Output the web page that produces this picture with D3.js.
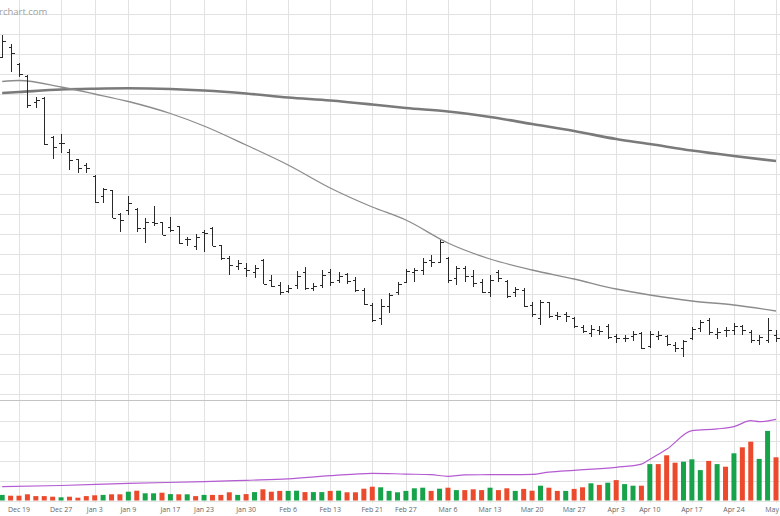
<!DOCTYPE html>
<html><head><meta charset="utf-8">
<script src="https://cdn.jsdelivr.net/npm/d3@7"></script>
<style>html,body{margin:0;padding:0;background:#fff;overflow:hidden}</style>
</head><body><svg id="c" width="780" height="516"></svg>
<script>
const dates = [
"2016-12-15","2016-12-16","2016-12-19","2016-12-20","2016-12-21","2016-12-22","2016-12-23","2016-12-27","2016-12-28","2016-12-29","2016-12-30",
"2017-01-03","2017-01-04","2017-01-05","2017-01-06","2017-01-09","2017-01-10","2017-01-11","2017-01-12","2017-01-13",
"2017-01-17","2017-01-18","2017-01-19","2017-01-20","2017-01-23","2017-01-24","2017-01-25","2017-01-26","2017-01-27","2017-01-30","2017-01-31",
"2017-02-01","2017-02-02","2017-02-03","2017-02-06","2017-02-07","2017-02-08","2017-02-09","2017-02-10","2017-02-13","2017-02-14","2017-02-15","2017-02-16","2017-02-17",
"2017-02-21","2017-02-22","2017-02-23","2017-02-24","2017-02-27","2017-02-28",
"2017-03-01","2017-03-02","2017-03-03","2017-03-06","2017-03-07","2017-03-08","2017-03-09","2017-03-10","2017-03-13","2017-03-14","2017-03-15","2017-03-16","2017-03-17",
"2017-03-20","2017-03-21","2017-03-22","2017-03-23","2017-03-24","2017-03-27","2017-03-28","2017-03-29","2017-03-30","2017-03-31",
"2017-04-03","2017-04-04","2017-04-05","2017-04-06","2017-04-10","2017-04-11","2017-04-12","2017-04-13","2017-04-14",
"2017-04-17","2017-04-18","2017-04-19","2017-04-20","2017-04-21","2017-04-24","2017-04-25","2017-04-26","2017-04-27","2017-04-28","2017-05-01"];

const open  = [35.65,36.65,34.95,33.75,31.15,31.55,27.65,27.05,26.15,25.45,24.85,23.75,21.75,22.35,19.95,20.35,20.45,18.55,19.15,19.15,18.65,18.75,17.45,16.75,18.15,18.55,16.85,15.55,14.75,14.55,14.15,15.35,13.35,12.85,12.25,12.85,14.15,12.55,12.85,14.15,13.35,13.95,13.35,12.35,10.85,9.55,10.75,12.15,13.15,14.15,14.35,15.35,15.15,15.55,13.55,14.55,13.75,13.15,12.15,14.15,13.25,12.15,12.35,10.85,9.55,11.15,9.85,9.95,9.55,8.65,8.05,8.35,8.75,7.75,7.55,7.75,8.05,6.75,7.75,7.75,6.85,6.55,7.55,8.55,9.35,7.95,8.35,8.35,8.75,8.15,7.35,7.35,7.85];
const high  = [37.85,36.95,35.05,33.85,31.65,31.65,27.75,27.95,26.45,25.45,25.05,23.85,22.55,22.35,20.05,21.75,20.55,19.55,20.75,19.15,19.65,18.75,17.65,17.95,18.35,18.65,16.85,15.75,15.35,15.05,14.85,15.45,13.85,13.15,12.85,14.25,14.65,13.05,14.35,14.45,14.15,14.05,13.65,12.55,11.05,11.45,12.05,13.15,14.45,14.55,15.55,15.85,17.35,15.65,14.75,14.75,14.35,13.45,13.85,14.35,13.35,12.65,12.55,11.15,11.35,11.15,10.15,10.15,9.65,8.85,8.85,8.75,8.95,7.95,7.85,8.25,8.15,8.25,8.25,7.85,7.15,7.35,8.65,9.35,9.55,8.55,8.65,9.05,8.85,8.35,7.85,9.55,8.35];
const low   = [35.55,34.15,33.65,30.55,30.55,26.85,25.45,26.05,24.35,24.05,24.05,21.05,21.05,19.55,18.15,19.85,18.15,17.05,18.75,17.85,18.15,16.95,16.75,16.35,16.15,16.75,15.35,13.85,14.35,13.65,13.55,12.95,12.65,11.85,12.05,12.45,12.35,12.25,12.55,12.75,13.05,12.95,12.15,10.85,9.15,8.85,10.05,11.85,13.05,13.15,13.85,14.65,15.05,13.05,12.85,13.15,12.65,12.05,11.65,13.15,11.55,11.65,10.65,9.65,8.85,9.55,9.35,9.15,8.55,8.05,7.65,7.85,7.45,7.05,7.15,7.25,6.45,6.55,7.35,6.75,6.15,5.65,7.35,8.15,7.85,7.45,7.65,7.85,7.85,7.05,6.85,7.05,7.15];
const close = [37.25,36.05,33.95,30.85,31.35,26.95,26.65,27.05,25.35,24.55,24.55,21.15,22.45,19.55,19.35,21.05,18.55,19.15,19.05,17.85,18.35,17.05,17.45,17.65,18.05,16.75,15.55,14.85,15.05,14.35,14.55,12.95,12.75,12.15,12.55,13.75,12.55,12.75,13.85,13.15,13.75,13.25,12.35,10.95,9.35,10.75,11.85,12.95,14.25,14.35,15.15,15.15,17.15,13.35,14.55,13.75,13.05,12.15,13.35,13.55,11.75,12.45,10.75,9.95,11.15,9.75,9.75,9.75,8.75,8.25,8.45,8.25,7.65,7.55,7.55,7.95,6.55,7.95,7.85,6.95,6.55,7.25,8.45,9.15,8.15,8.15,8.35,8.75,8.35,7.35,7.65,8.35,7.55];

// volume, millions of shares
const volume = [1.4,1.2,1.2,1.55,1.1,1.1,0.95,0.8,0.95,0.7,1.1,1.3,1.4,1.55,1.55,2.2,2.45,1.8,1.8,1.95,1.6,1.55,1.55,1.1,1.4,1.4,1.4,2.05,1.4,1.6,2.1,2.8,2.2,2.4,2.4,2.45,2.1,2.1,2.1,2.4,2.45,2.05,2.05,2.95,3.45,3.3,2.4,2.05,2.4,3.05,3.2,2.4,2.95,3.2,2.6,2.6,2.8,2.6,3.2,2.6,3.05,2.4,2.9,2.45,3.7,3.2,2.4,2.4,2.9,3.3,4.3,3.9,4.45,5.1,4.1,3.7,3.7,9.1,9.1,11.3,9.45,9.7,10.3,7.6,9.9,9.1,8.45,11.8,13.3,14.7,10.4,17.4,10.8];
// 1 = up day (green), 0 = down day (red)
const volUp = [1,0,0,0,0,0,0,1,0,0,0,0,1,0,0,1,0,1,1,0,1,0,1,0,1,0,0,0,1,0,1,0,0,0,1,1,0,1,1,0,1,0,0,0,0,1,1,1,1,1,1,0,1,0,1,0,0,0,1,0,0,1,0,0,1,0,0,1,0,0,1,0,1,0,1,1,0,1,0,0,0,1,1,1,0,1,0,1,0,0,1,1,0];

const maDates = ["2016-12-15","2016-12-19","2016-12-27","2017-01-03","2017-01-09","2017-01-17","2017-01-23","2017-01-30","2017-02-06","2017-02-13","2017-02-21","2017-02-27","2017-03-06","2017-03-13","2017-03-20","2017-03-27","2017-04-03","2017-04-10","2017-04-17","2017-04-24","2017-05-01"];
const ma200 = [32.05,32.15,32.40,32.48,32.52,32.45,32.30,32.00,31.60,31.30,30.90,30.55,30.20,29.65,28.95,28.25,27.45,26.95,26.30,25.75,25.25];
const ma50  = [33.20,33.30,32.65,31.95,31.20,30.00,28.75,26.85,24.85,22.55,20.65,19.35,17.05,15.45,14.35,13.45,12.45,11.85,11.25,10.85,10.25];

const volMaDates = ["2016-12-15","2016-12-27","2017-01-09","2017-01-23","2017-01-30","2017-02-06","2017-02-13","2017-02-21","2017-02-27","2017-03-02","2017-03-06","2017-03-08","2017-03-13","2017-03-20","2017-03-22","2017-03-27","2017-04-03","2017-04-06","2017-04-10","2017-04-12","2017-04-17","2017-04-20","2017-04-24","2017-04-26","2017-04-27","2017-05-01"];
const volMa = [3.45,3.75,4.3,4.7,5.05,5.4,6.2,6.8,6.6,6.45,6.05,6.4,6.45,6.55,7.1,7.55,8.3,9.1,10.3,12.8,17.45,17.9,18.45,19.95,19.7,20.3];

const tickDates  = ["2016-12-19","2016-12-27","2017-01-03","2017-01-09","2017-01-17","2017-01-23","2017-01-30","2017-02-06","2017-02-13","2017-02-21","2017-02-27","2017-03-06","2017-03-13","2017-03-20","2017-03-27","2017-04-03","2017-04-10","2017-04-17","2017-04-24","2017-05-01"];
const tickLabels = ["Dec 19","Dec 27","Jan 3","Jan 9","Jan 17","Jan 23","Jan 30","Feb 6","Feb 13","Feb 21","Feb 27","Mar 6","Mar 13","Mar 20","Mar 27","Apr 3","Apr 10","Apr 17","Apr 24","May"];
const priceTicks = d3.range(2, 41, 2);
const volTicks = [5, 10, 15, 20];

const svg = d3.select("#c");
const W = 780;
const x = d3.scalePoint().domain(dates).range([2.18, 776]);
const y = d3.scaleLinear().domain([1.35, 41.35]).range([400, 0]);
const yv = d3.scaleLinear().domain([0, 25]).range([500.5, 400.5]);
const cx = d => Math.round(x(d)) + 0.5;

const grid = svg.append("g").attr("stroke", "#e2e2e2").attr("stroke-width", 1).attr("shape-rendering", "crispEdges");
priceTicks.forEach(p => grid.append("line").attr("x1", 0).attr("x2", W).attr("y1", Math.round(y(p)) + 0.5).attr("y2", Math.round(y(p)) + 0.5));
volTicks.forEach(v => grid.append("line").attr("x1", 0).attr("x2", W).attr("y1", Math.round(yv(v)) + 0.5).attr("y2", Math.round(yv(v)) + 0.5));
tickDates.forEach(d => grid.append("line").attr("x1", cx(d)).attr("x2", cx(d)).attr("y1", 0).attr("y2", 503));
svg.append("line").attr("x1", 0).attr("x2", W).attr("y1", 400.5).attr("y2", 400.5).attr("stroke", "#c4c4c4").attr("shape-rendering", "crispEdges");
svg.append("line").attr("x1", 0).attr("x2", W).attr("y1", 501.5).attr("y2", 501.5).attr("stroke", "#e2e2e2").attr("shape-rendering", "crispEdges");

svg.append("text").attr("x", -1).attr("y", 15).attr("font-family", "Open Sans").attr("font-size", 9.5).attr("fill", "#a0a0a0").text("rchart.com");

// moving averages
svg.append("path").datum(maDates).attr("fill", "none").attr("stroke", "#7a7a7a").attr("stroke-width", 2.6)
  .attr("d", d3.line().x(d => x(d)).y((d, i) => y(ma200[i])).curve(d3.curveMonotoneX));
svg.append("path").datum(maDates).attr("fill", "none").attr("stroke", "#8c8c8c").attr("stroke-width", 1.3)
  .attr("d", d3.line().x(d => x(d)).y((d, i) => y(ma50[i])).curve(d3.curveMonotoneX));

// OHLC bars
const bars = svg.append("g").attr("stroke", "#2a2a2a").attr("stroke-width", 1).attr("fill", "none").attr("shape-rendering", "crispEdges");
dates.forEach((d, i) => {
  const X = cx(d);
  bars.append("path").attr("d",
    `M${X},${y(high[i])}V${y(low[i])}M${X - 3},${Math.round(y(open[i])) + 0.5}H${X}M${X},${Math.round(y(close[i])) + 0.5}H${X + 3}`);
});

// volume
svg.append("g").selectAll("rect").data(dates).join("rect")
  .attr("x", d => x(d) - 2.5).attr("width", 5)
  .attr("y", (d, i) => yv(volume[i])).attr("height", (d, i) => yv(0) - yv(volume[i]))
  .attr("fill", (d, i) => volUp[i] ? "#17a34a" : "#ec4a2c");

svg.append("path").datum(volMaDates).attr("fill", "none").attr("stroke", "#b45bd2").attr("stroke-width", 1.2)
  .attr("d", d3.line().x(d => x(d)).y((d, i) => yv(volMa[i])).curve(d3.curveMonotoneX));

// x-axis labels
svg.append("g").selectAll("text").data(tickDates).join("text")
  .attr("x", (d, i) => i === tickDates.length - 1 ? W - 1 : x(d))
  .attr("y", 511.5)
  .attr("text-anchor", (d, i) => i === tickDates.length - 1 ? "end" : "middle")
  .attr("font-family", "Open Sans").attr("font-size", 7).attr("fill", "#666")
  .text((d, i) => tickLabels[i]);
</script></body></html>
